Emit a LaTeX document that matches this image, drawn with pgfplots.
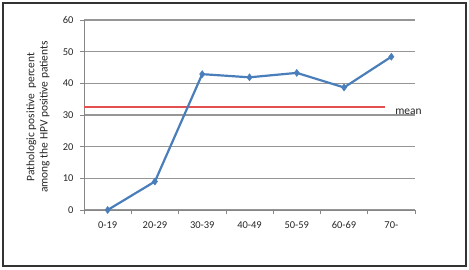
\documentclass[border=0pt]{standalone}
\usepackage{pgfplots}
\pgfplotsset{compat=1.18}
\usepackage{fontspec}
\setmainfont{Carlito}
\definecolor{excelblue}{RGB}{74,126,187}
\definecolor{meanred}{RGB}{228,80,80}
\definecolor{gridgray}{RGB}{150,150,150}
\definecolor{axgray}{RGB}{134,134,134}
\begin{document}
\begin{tikzpicture}
\useasboundingbox (-84bp,-60bp) rectangle (385bp,210bp);
\draw[line width=1.6bp, black!80] (-81bp,-56bp) rectangle (382bp,207bp);
\begin{axis}[
  at={(0,0)}, anchor=south west,
  scale only axis,
  width=331bp, height=190bp,
  xmin=-0.5, xmax=6.5, ymin=0, ymax=60,
  ytick={0,10,...,60},
  xtick={-0.5,0.5,...,6.5},
  xticklabels={},
  extra x ticks={0,1,2,3,4,5,6},
  extra x tick labels={0-19,20-29,30-39,40-49,50-59,60-69,70-},
  extra x tick style={major tick length=0pt, xticklabel style={yshift=-8bp}},
  major tick length=4bp,
  tick align=outside,
  tick style={axgray, line width=0.6bp},
  axis x line*=bottom, axis y line*=left,
  axis line style={axgray, line width=0.8bp, -},
  grid=major,
  xmajorgrids=false,
  major grid style={draw=gridgray, line width=1.2bp},
  /pgf/number format/assume math mode=true,
  ticklabel style={font=\fontsize{10.5}{12}\selectfont, text=black!85},
  yticklabel style={xshift=-3bp},
  clip=false,
]
\addplot[meanred, line width=2bp] coordinates {(-0.5,32.4) (5.86,32.4)};
\addplot[excelblue, line width=2.2bp, mark=diamond*, mark size=3.5bp, mark options={fill=excelblue, draw=excelblue, line width=0.5bp}]
 coordinates {(0,0) (1,9) (2,42.9) (3,41.9) (4,43.3) (5,38.7) (6,48.4)};
\node[anchor=west, inner sep=0, font=\fontsize{11.5}{12}\selectfont, text=black!85] at (axis cs:6.08,31) {mean};
\end{axis}
\node[rotate=90, align=center, inner sep=0, font=\fontsize{11.5}{13.5}\selectfont, text=black!85] at (-46bp,93bp) {Pathologic positive\ \ percent\\among the HPV positive patients};
\end{tikzpicture}
\end{document}
